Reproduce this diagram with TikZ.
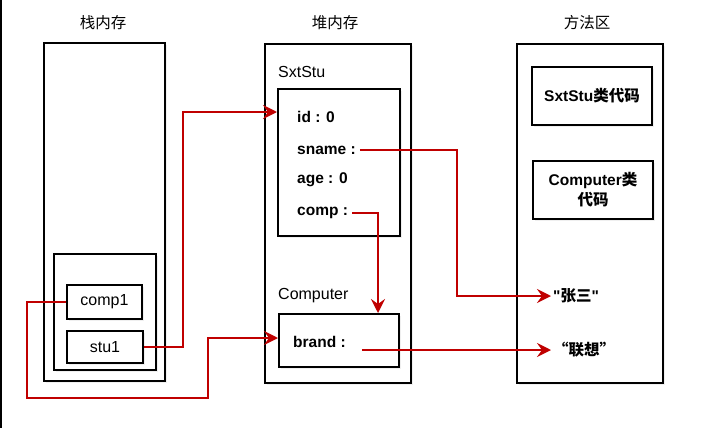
\documentclass[tikz,border=0pt]{standalone}
\usepackage{fontspec}
\setmainfont{Liberation Sans}
\newfontfamily\cjk{Noto Sans CJK SC}
\newfontfamily\plainq{Liberation Sans}[Ligatures=TeXOff]
\usetikzlibrary{arrows.meta,shadows}
\definecolor{refred}{HTML}{C00000}

\begin{document}
\begin{tikzpicture}
[
  x=1pt, y=-1pt,
  area/.style={draw,line width=2pt,fill=white,inner sep=0pt,
    drop shadow={opacity=0.12,shadow xshift=2pt,shadow yshift=-2pt}},
  var/.style={area,font=\fontsize{16}{19}\selectfont},
  title/.style={font=\cjk\fontsize{15.5}{18}\selectfont},
  label/.style={anchor=west,inner sep=0pt,font=\fontsize{16}{19}\selectfont},
  field/.style={anchor=west,inner sep=4pt,font=\bfseries\fontsize{15.5}{18}\selectfont},
  cls/.style={area,align=center,font=\bfseries\fontsize{15.5}{20}\selectfont},
  value/.style={anchor=west,inner sep=2pt,font=\bfseries\fontsize{15.5}{18}\selectfont},
  ref/.style={line width=2.4pt,draw=refred,-{Stealth[length=14pt,width=14pt,inset=5pt]}}
]
\useasboundingbox (0,0) rectangle (701,428);
\draw[line width=1.5pt] (0.75,0) -- (0.75,428);

% stack
\node[title] (tstack) at (103,23) {栈内存};
\node[area,minimum width=121pt,minimum height=338pt] (stack) at (104.5,212) {};
\node[area,minimum width=102pt,minimum height=116pt] (frame) at (105,312) {};
\node[var,minimum width=75pt,minimum height=34pt] (comp1) at (104.5,302) {comp1};
\node[var,minimum width=76pt,minimum height=32pt] (stu1) at (105,347) {stu1};

% heap
\node[title] (theap) at (335,23) {堆内存};
\node[area,minimum width=146pt,minimum height=339pt] (heap) at (338,213.5) {};
\node[label] (lstu) at (278,72) {SxtStu};
\node[area,minimum width=122pt,minimum height=147pt] (stubox) at (339,162.5) {};
\node[field] (fid) at (293,117) {id : 0};
\node[field] (fsname) at (293,150) {sname :};
\node[field] (fage) at (293,180) {age : 0};
\node[field] (fcomp) at (293,213) {comp :};
\node[label] (lcomp) at (278,296) {Computer};
\node[area,minimum width=120pt,minimum height=53pt] (compbox) at (339,340.5) {};
\node[field] (fbrand) at (289,342) {brand :};

% method area
\node[title] (tmeth) at (587,23) {方法区};
\node[area,minimum width=146pt,minimum height=339pt] (meth) at (590,213.5) {};
\node[cls,minimum width=120pt,minimum height=58pt] (cstu) at (592,96) {SxtStu{\cjk 类代码}};
\node[cls,minimum width=120pt,minimum height=58pt] (ccomp) at (593,190) {Computer{\cjk 类}\\{\cjk 代码}};
\node[value] (vname) at (551,296) {{\plainq"}{\cjk 张三}{\plainq"}};
\node[value] (vbrand) at (551,350) {{\cjk “联想”}};

% references
\draw[ref] (stu1.east) -- ++(39,0) |- (stubox.west |- 0,112);
\draw[ref] (comp1.west) -| (27,398) -| (208,338) -- (compbox.west |- 0,338);
\draw[ref] (fsname.east) -| ([xshift=-94pt]vname.west) -- (vname.west);
\draw[ref] (fcomp.east) -| ([xshift=39pt]compbox.north);
\draw[ref,shorten <=12pt] (fbrand.east |- vbrand.west) -- (vbrand.west);

\end{tikzpicture}
\end{document}
